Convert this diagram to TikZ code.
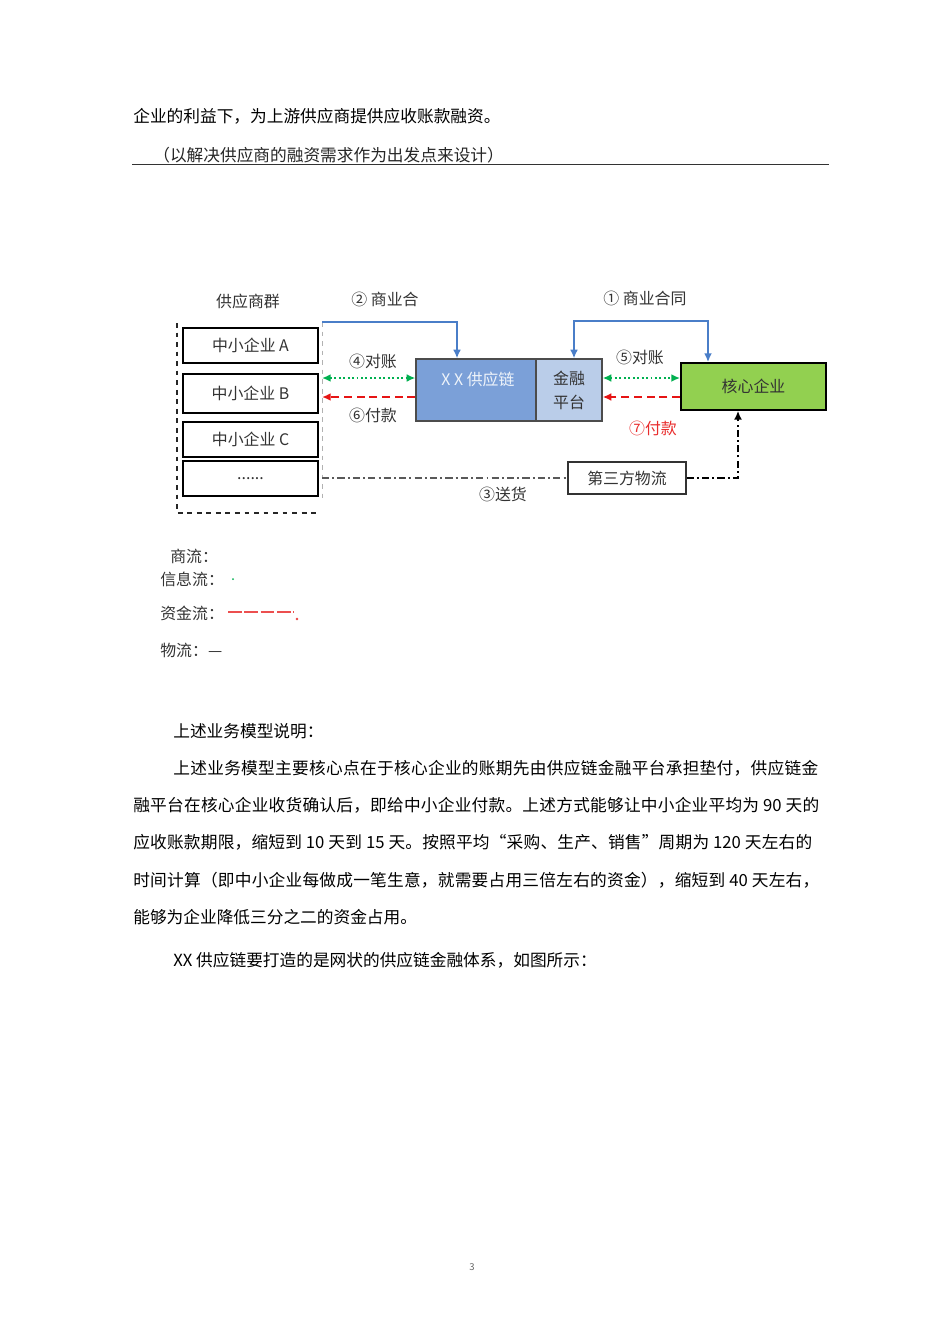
\documentclass[tikz,border=0pt]{standalone}
\usepackage{fontspec}
\setmainfont{Noto Sans CJK SC}
\usetikzlibrary{arrows.meta,positioning}
\newcount\cjkcode
\newcommand\setcjkclass[2]{\cjkcode=#1
  \loop\XeTeXcharclass\cjkcode=1 \advance\cjkcode by 1 \ifnum\cjkcode<#2\repeat}
\setcjkclass{"4E00}{"A000}
\setcjkclass{"3000}{"3040}
\setcjkclass{"FF00}{"FFF0}
\setcjkclass{"201C}{"201E}
\XeTeXinterchartokenstate=1
\XeTeXinterchartoks 1 1 = {\hskip 0pt plus 1pt\relax}
\newdimen\upx
\upx=0.0221053cm
\newcommand\justline[2]{\hbox to #1\upx{#2}}
\definecolor{bizblue}{RGB}{74,126,200}
\definecolor{infogreen}{RGB}{0,176,80}
\definecolor{payred}{RGB}{230,20,20}
\definecolor{xxfill}{RGB}{123,160,216}
\definecolor{finfill}{RGB}{186,205,233}
\definecolor{corefill}{RGB}{146,208,80}
\tikzset{>={Latex[length=5.5pt,width=5pt]}}
\tikzset{
  bodyline/.style={anchor=west,inner sep=0pt,font=\fontsize{10.5pt}{13pt}\selectfont},
  figtext/.style={inner sep=0pt,text=black!80,font=\fontsize{10pt}{12pt}\selectfont},
  smebox/.style={draw=black,line width=1.1pt,minimum width=135\upx,minimum height=35\upx,inner sep=0pt,text=black!80,font=\fontsize{10pt}{12pt}\selectfont},
  xxbox/.style={draw=black!70,line width=0.8pt,fill=xxfill,minimum width=120\upx,minimum height=62\upx,inner sep=0pt},
  finbox/.style={draw=black!70,line width=0.8pt,fill=finfill,minimum width=66\upx,minimum height=62\upx,inner sep=0pt,align=center,text=black!80,font=\fontsize{10pt}{15pt}\selectfont},
  corebox/.style={draw=black,line width=1.2pt,fill=corefill,minimum width=145\upx,minimum height=47\upx,inner sep=0pt,text=black!80,font=\fontsize{10pt}{12pt}\selectfont},
  logbox/.style={draw=black!80,line width=0.8pt,minimum width=118\upx,minimum height=32\upx,inner sep=0pt,text=black!80,font=\fontsize{10pt}{12pt}\selectfont},
  bizflow/.style={draw=bizblue,line width=1.3pt},
  infoflow/.style={draw=infogreen,line width=1.3pt,dash pattern=on 1.2pt off 1.6pt},
  payflow/.style={draw=payred,line width=1.3pt,dash pattern=on 5pt off 3pt},
  goodsflow/.style={line width=0.9pt,dash pattern=on 4.5pt off 2pt on 1.2pt off 2pt},
}

\begin{document}
\begin{tikzpicture}[x=\upx,y=-\upx]
      \useasboundingbox[fill=white] (0,0) rectangle (950,1344);
      \node[bodyline] (intro) at (133,116) {企业的利益下，为上游供应商提供应收账款融资。};
      \node[bodyline,text=black!85] (aim) at (153,155) {（以解决供应商的融资需求作为出发点来设计）};
      \coordinate (ulL) at (132,164);
      \coordinate (ulR) at (829,164);
      \draw[line width=0.6pt,black!80] (ulL) -- (ulR);

      \node[figtext] (grp) at (248,301) {供应商群};
      \node[smebox] (smeA) at (250.5,345.5) {中小企业 A};
      \node[smebox,minimum height=39\upx] (smeB) at (250.5,393.5) {中小企业 B};
      \node[smebox] (smeC) at (250.5,439.5) {中小企业 C};
      \node[smebox] (smeD) at (250.5,478.5) {......};
      \coordinate (gtl) at (177,323);
      \coordinate (gbl) at (177,513);
      \coordinate (gbr) at (317,513);
      \coordinate (gtr) at (322,322);
      \coordinate (gmr) at (322,500);
      \draw[black!85,line width=0.9pt,dashed] (gtl) -- (gbl) -- (gbr);
      \draw[black!30,line width=0.5pt,dashed] (gtr) -- (gmr);

      \node[xxbox] (xx) at (476,390) {};
      \node[figtext,text=white!88!xxfill] (xxname) at (478,379) {X X 供应链};
      \node[finbox] (fin) at (569,390) {金融\\平台};
      \node[corebox] (core) at (753.5,386.5) {核心企业};
      \node[logbox] (log) at (627,478) {第三方物流};

      \draw[bizflow,->] (gtr) -| ([xshift=-19\upx]xx.north);
      \draw[bizflow,<->] ([xshift=5\upx]fin.north) -- ++(0,-37) -| ([xshift=-45.5\upx]core.north);
      \node[figtext] (lbl2) at (385,299) {② 商业合};
      \node[figtext] (lbl1) at (645,298) {① 商业合同};

      \coordinate (g4) at (322,378);
      \coordinate (g6) at (322,397);
      \draw[infoflow,<->] (g4) -- ([yshift=12\upx]xx.west);
      \draw[payflow,->] ([yshift=-7\upx]xx.west) -- (g6);
      \draw[infoflow,<->] ([yshift=12\upx]fin.east) -- ([yshift=8.5\upx]core.west);
      \draw[payflow,->] ([yshift=-10.5\upx]core.west) -- ([yshift=-7\upx]fin.east);
      \node[figtext] (lbl4) at (373,361) {④对账};
      \node[figtext] (lbl6) at (373,415) {⑥付款};
      \node[figtext] (lbl5) at (640,357) {⑤对账};
      \node[figtext,text=payred!90] (lbl7) at (653,428) {⑦付款};

      \coordinate (g3) at (322,478);
      \draw[goodsflow,black!65] (g3) -- (log.west);
      \draw[goodsflow,->] (log.east) -| ([xshift=-15.5\upx]core.south);
      \node[figtext] (lbl3) at (503,494) {③送货};

      \node[figtext,anchor=west] (legbiz) at (170,556) {商流：};
      \node[figtext,anchor=west] (leginfo) at (160,579) {信息流：};
      \fill[infogreen] (233,579) circle (1);
      \node[figtext,anchor=west] (legpay) at (160,613) {资金流：};
      \coordinate (payA) at (228,612);
      \coordinate (payB) at (294,612);
      \draw[draw=payred!75,line width=0.7pt,dash pattern=on 8.5pt off 1.8pt] (payA) -- (payB);
      \fill[payred!80] (297,619) circle (1.3);
      \node[figtext,anchor=west] (leggoods) at (160,650) {物流：—};

      \node[bodyline] (expl) at (173,731) {上述业务模型说明：};
      \node[bodyline] (par1) at (173,768) {\justline{645}{上述业务模型主要核心点在于核心企业的账期先由供应链金融平台承担垫付，供应链金}};
      \node[bodyline] (par2) at (133,805) {\justline{686}{融平台在核心企业收货确认后，即给中小企业付款。上述方式能够让中小企业平均为 90 天的}};
      \node[bodyline] (par3) at (133,842) {\justline{679}{应收账款期限，缩短到 10 天到 15 天。按照平均“采购、生产、销售”周期为 120 天左右的}};
      \node[bodyline] (par4) at (133,880) {\justline{686}{时间计算（即中小企业每做成一笔生意，就需要占用三倍左右的资金），缩短到 40 天左右，}};
      \node[bodyline] (par5) at (133,917) {能够为企业降低三分之二的资金占用。};
      \node[bodyline] (net) at (173,960) {XX 供应链要打造的是网状的供应链金融体系，如图所示：};

      \node[font=\fontsize{6pt}{7pt}\selectfont,text=black!60,inner sep=0pt] (pgno) at (472,1267) {3};
    \end{tikzpicture}
\end{document}
